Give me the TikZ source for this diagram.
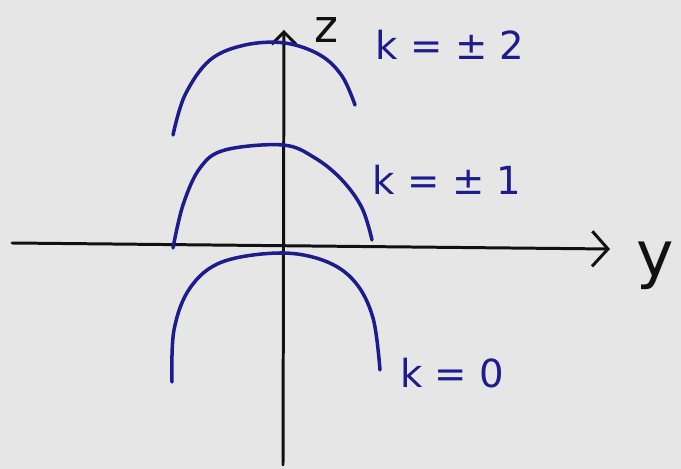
\documentclass[tikz,border=0pt]{standalone}
\usepackage{fontspec}
\setmainfont{DejaVu Sans}
\usetikzlibrary{arrows.meta}
\definecolor{Paper}{HTML}{E6E6E6}
\definecolor{Ink}{HTML}{111111}
\definecolor{Pen}{HTML}{1C1C8E}
\tikzset{axis/.style={draw=Ink,line width=1.7pt,line cap=round},
  arch/.style={draw=Pen,line width=2pt,line cap=round},
  klabel/.style={text=Pen,font=\fontsize{22}{24}\selectfont,inner sep=0pt},
  alabel/.style={text=Ink,font=\fontsize{30}{32}\selectfont,inner sep=0pt}}
\begin{document}
\begin{tikzpicture}[x=0.02cm,y=-0.02cm]
    \fill[Paper] (0,0) rectangle (681,469);
    \useasboundingbox (0,0) rectangle (681,469);
    % axes
    \coordinate (ybot) at (283,465);
    \coordinate (ztop) at (284,30);
    \coordinate (yleft) at (12,243);
    \coordinate (yright) at (610,249);
    \draw[axis,-{Straight Barb[length=7pt,width=14pt]}] (ybot) -- (ztop);
    \draw[axis,-{Straight Barb[length=9pt,width=20pt]}] (yleft) -- (yright);
    \node[alabel,font=\fontsize{26}{28}\selectfont] (zlab) at (326,30) {z};
    \node[alabel,font=\fontsize{36}{38}\selectfont] (ylab) at (655,266) {y};
    % the three arches
    \draw[arch] plot[smooth,tension=0.6] coordinates
      {(173,135) (185,95) (210,60) (245,45) (285,43) (320,55) (342,76) (355,105)};
    \draw[arch] plot[smooth,tension=0.6] coordinates
      {(173,248) (183,205) (200,168) (225,150) (283,145) (315,158) (342,180) (362,208) (372,240)};
    \draw[arch] plot[smooth,tension=0.6] coordinates
      {(172,382) (174,330) (190,288) (222,262) (280,253) (325,261) (355,282) (373,318) (380,370)};
    \node[klabel] (ktwo) at (450,45) {k = ± 2};
    \node[klabel] (kone) at (447,180) {k = ± 1};
    \node[klabel] (kzero) at (452,373) {k = 0};
  \end{tikzpicture}
\end{document}
